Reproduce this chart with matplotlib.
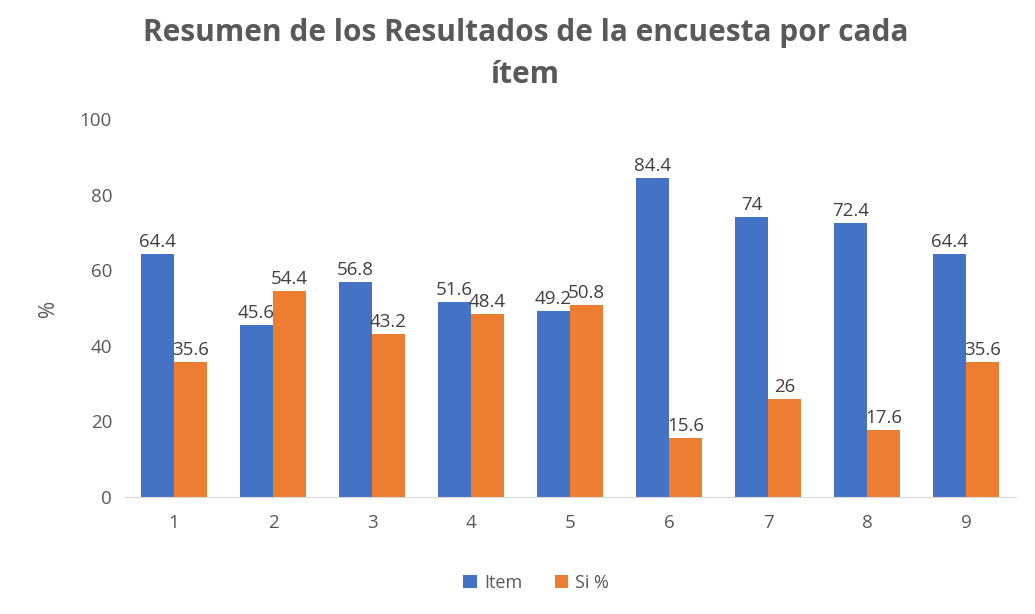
import numpy as np
import matplotlib.pyplot as plt

# datos de la encuesta
items = ['1', '2', '3', '4', '5', '6', '7', '8', '9']
item_vals = [64.4, 45.6, 56.8, 51.6, 49.2, 84.4, 74, 72.4, 64.4]
si_vals = [35.6, 54.4, 43.2, 48.4, 50.8, 15.6, 26, 17.6, 35.6]

azul = '#4472C4'
naranja = '#ED7D31'
gris = '#595959'

plt.rcParams['font.family'] = ['Open Sans', 'DejaVu Sans']

fig = plt.figure(figsize=(10.35, 6.14), dpi=100)
ax = fig.add_axes([0.1203, 0.1906, 0.8609, 0.6156])

x = np.arange(len(items))
w = 0.333
b1 = ax.bar(x - w/2, item_vals, w, color=azul, label='Item')
b2 = ax.bar(x + w/2, si_vals, w, color=naranja, label='Si %')

for rects, vals in ((b1, item_vals), (b2, si_vals)):
    for r, v in zip(rects, vals):
        ax.text(r.get_x() + r.get_width()/2, v + 0.8, f'{v:g}',
                ha='center', va='bottom', fontsize=13.5, color='#404040')

ax.set_xlim(-0.5, len(items) - 0.5)
ax.set_ylim(0, 100)
ax.set_yticks(range(0, 101, 20))
ax.set_xticks(x)
ax.set_xticklabels(items)
ax.tick_params(axis='both', length=0, labelsize=13.5, labelcolor=gris)
ax.tick_params(axis='y', pad=9)
ax.tick_params(axis='x', pad=12)

for s in ['top', 'right', 'left']:
    ax.spines[s].set_visible(False)
ax.spines['bottom'].set_color('#D9D9D9')

ax.set_ylabel('%', fontsize=15, color=gris)
ax.yaxis.set_label_coords(-0.074, 0.5)

fig.suptitle('Resumen de los Resultados de la encuesta por cada\nítem',
             x=0.508, y=0.97, fontsize=21.5, fontweight='bold', color=gris,
             linespacing=1.5)

fig.legend(loc='lower center', bbox_to_anchor=(0.518, 0.01), ncol=2,
           frameon=False, fontsize=13, labelcolor=gris, handlelength=0.75,
           handleheight=0.75, handletextpad=0.4, columnspacing=1.8)

fig.savefig('out.png', dpi=100)
